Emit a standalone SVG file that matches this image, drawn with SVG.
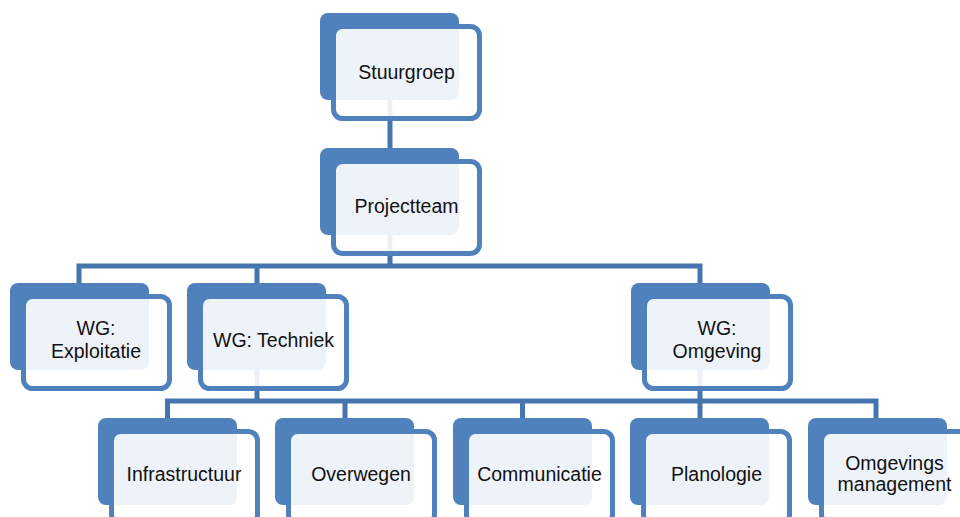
<svg xmlns="http://www.w3.org/2000/svg" width="960" height="517" viewBox="0 0 960 517">
<style>
.back{fill:#4F81BD}
.front{fill:#FFFFFF;fill-opacity:0.9;stroke:#4F81BD;stroke-width:5}
.conn{fill:none;stroke:#4674AD;stroke-width:5}
text{font-family:"Liberation Sans",Arial,sans-serif;font-size:19.5px;fill:#111111;text-anchor:middle}
</style>
<rect width="960" height="517" fill="#FFFFFF"/>
<g id="connectors">
<path class="conn" d="M390 100V148"/>
<path class="conn" d="M390 235V266M79 283V266H700V283M257 266V283"/>
<path class="conn" d="M257 370V401M167.5 418V401H876V418M345 401V418"/>
<path class="conn" d="M700 370V401M522.5 401V418M700 401V418"/>
</g>
<g id="stuurgroep">
<rect class="back" x="320" y="13" width="139" height="87" rx="8"/>
<rect class="front" x="333.5" y="26.5" width="146" height="92" rx="9"/>
<text x="406.5" y="79">Stuurgroep</text>
</g>
<g id="projectteam">
<rect class="back" x="320" y="148" width="139" height="87" rx="8"/>
<rect class="front" x="333.5" y="161.5" width="146" height="92" rx="9"/>
<text x="406.5" y="213">Projectteam</text>
</g>
<g id="wg-exploitatie">
<rect class="back" x="10" y="283" width="139" height="87" rx="8"/>
<rect class="front" x="23.5" y="296.5" width="146" height="92" rx="9"/>
<text x="96" y="335">WG:</text>
<text x="96" y="358">Exploitatie</text>
</g>
<g id="wg-techniek">
<rect class="back" x="187" y="283" width="139" height="87" rx="8"/>
<rect class="front" x="200.5" y="296.5" width="146" height="92" rx="9"/>
<text x="273.5" y="347">WG: Techniek</text>
</g>
<g id="wg-omgeving">
<rect class="back" x="631" y="283" width="139" height="87" rx="8"/>
<rect class="front" x="644.5" y="296.5" width="146" height="92" rx="9"/>
<text x="717" y="335">WG:</text>
<text x="717" y="358">Omgeving</text>
</g>
<g id="infrastructuur">
<rect class="back" x="98" y="418" width="139" height="87" rx="8"/>
<rect class="front" x="111.5" y="431.5" width="146" height="92" rx="9"/>
<text x="184" y="481">Infrastructuur</text>
</g>
<g id="overwegen">
<rect class="back" x="275" y="418" width="139" height="87" rx="8"/>
<rect class="front" x="288.5" y="431.5" width="146" height="92" rx="9"/>
<text x="361" y="481">Overwegen</text>
</g>
<g id="communicatie">
<rect class="back" x="453" y="418" width="139" height="87" rx="8"/>
<rect class="front" x="466.5" y="431.5" width="146" height="92" rx="9"/>
<text x="539.5" y="481">Communicatie</text>
</g>
<g id="planologie">
<rect class="back" x="630" y="418" width="139" height="87" rx="8"/>
<rect class="front" x="643.5" y="431.5" width="146" height="92" rx="9"/>
<text x="716.5" y="481">Planologie</text>
</g>
<g id="omgevings-management">
<rect class="back" x="808" y="418" width="139" height="87" rx="8"/>
<rect class="front" x="821.5" y="431.5" width="146" height="92" rx="9"/>
<text x="894.5" y="470">Omgevings</text>
<text x="894.5" y="491">management</text>
</g>
</svg>
